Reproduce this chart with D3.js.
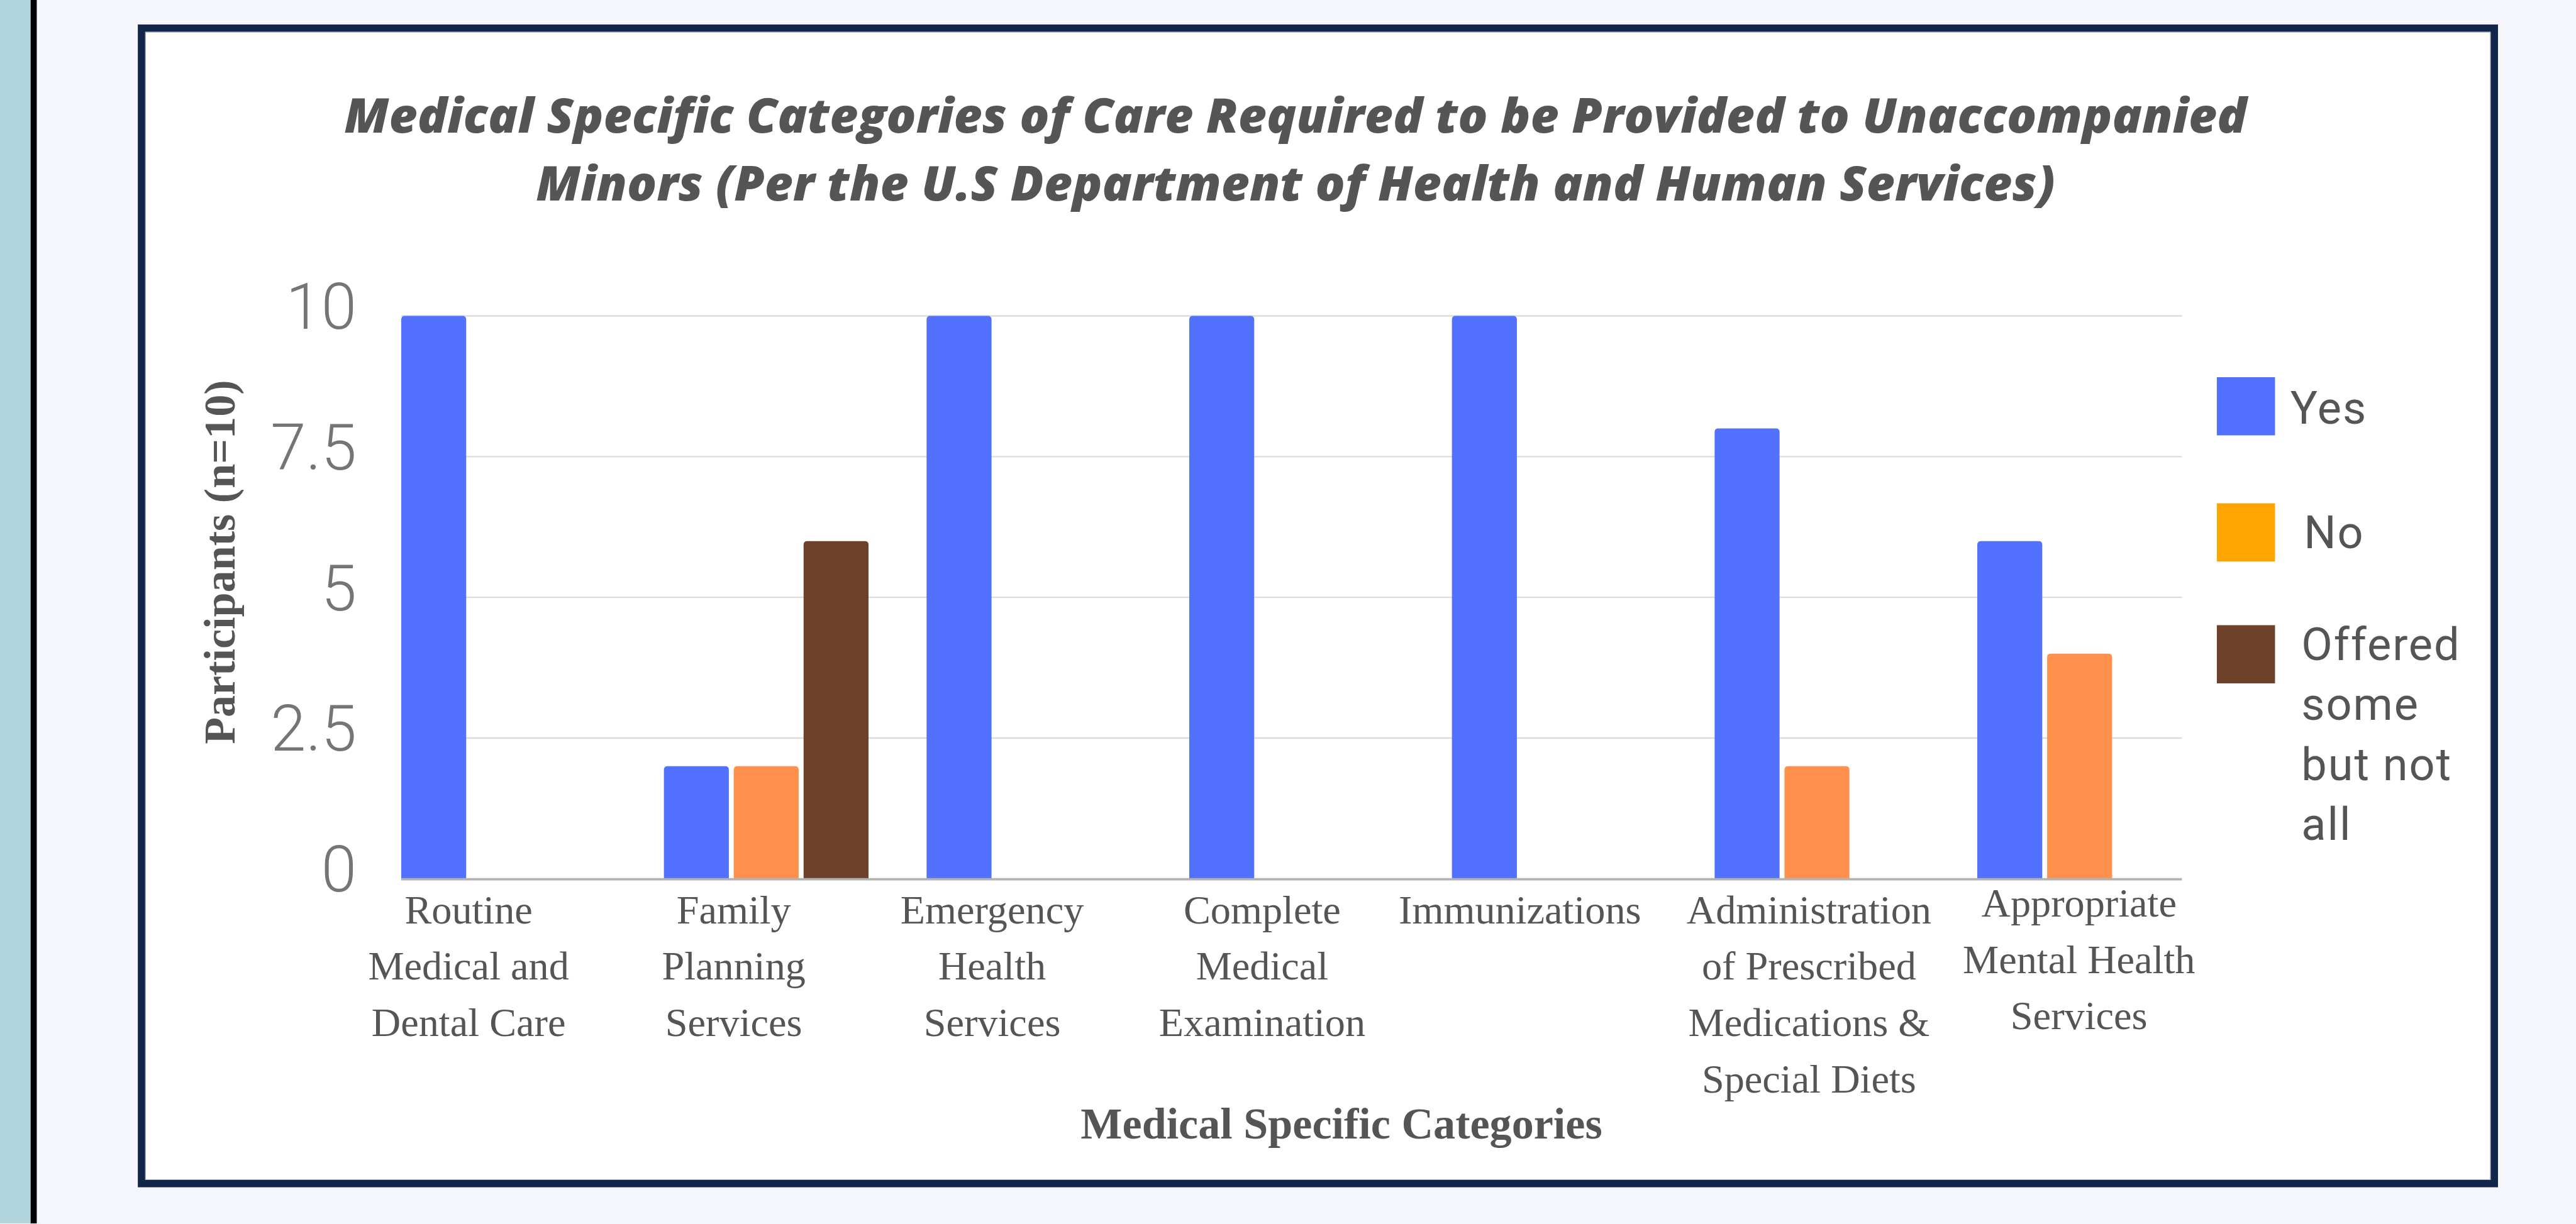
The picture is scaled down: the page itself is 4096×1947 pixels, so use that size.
<!DOCTYPE html>
<html>
<head>
<meta charset="utf-8">
<script src="https://cdn.jsdelivr.net/npm/d3@7"></script>
<style>
  body { margin: 0; background: #f4f6fb; overflow: hidden; }
</style>
</head>
<body>
<script>
// data
const categories = [
  "Routine Medical and Dental Care",
  "Family Planning Services",
  "Emergency Health Services",
  "Complete Medical Examination",
  "Immunizations",
  "Administration of Prescribed Medications & Special Diets",
  "Appropriate Mental Health Services"
];
const categoryLines = [
  ["Routine", "Medical and", "Dental Care"],
  ["Family", "Planning", "Services"],
  ["Emergency", "Health", "Services"],
  ["Complete", "Medical", "Examination"],
  ["Immunizations"],
  ["Administration", "of Prescribed", "Medications &", "Special Diets"],
  ["Appropriate", "Mental Health", "Services"]
];
const seriesNames = ["Yes", "No", "Offered some but not all"];
const yesValues = [10, 2, 10, 10, 10, 8, 6];
const noValues = [0, 2, 0, 0, 0, 2, 4];
const offeredValues = [0, 6, 0, 0, 0, 0, 0];
const yTicks = [0, 2.5, 5, 7.5, 10];

// colours
const barColors = ["#5271ff", "#ff914d", "#6d412a"];
const legendColors = ["#5271ff", "#ffa500", "#6d412a"];
const legendLines = [["Yes"], ["No"], ["Offered", "some", "but not", "all"]];

// the labels under the axis are not centred on their groups in the original
const labelShift = [-57, -53, -60, -48, -56, -13, -1];

const k = 0.974;  // reference -> window
const width = 4096, height = 1947;

const svg = d3.select("body").append("svg")
  .attr("width", width)
  .attr("height", height);

const root = svg.append("g").attr("transform", `scale(${k})`);

// page background, side band
root.append("rect").attr("width", 4203).attr("height", 1998).attr("fill", "#f4f6fb");
root.append("rect").attr("width", 50).attr("height", 1998).attr("fill", "#b3d5e0");
root.append("rect").attr("x", 50).attr("width", 10).attr("height", 1998).attr("fill", "#000");

// framed card
root.append("rect")
  .attr("x", 231).attr("y", 46)
  .attr("width", 3841).attr("height", 1887)
  .attr("fill", "#fff")
  .attr("stroke", "#12264a")
  .attr("stroke-width", 12);
root.append("rect")
  .attr("x", 237.5).attr("y", 52.5)
  .attr("width", 3828).attr("height", 1874)
  .attr("fill", "none")
  .attr("stroke", "#9aa3b5")
  .attr("stroke-width", 1);

// title
const titleLines = [
  { text: "Medical Specific Categories of Care Required to be Provided to Unaccompanied", y: 217, w: 3106 },
  { text: "Minors (Per the U.S Department of Health and Human Services)", y: 328, w: 2480 }
];
root.append("g").selectAll("text")
  .data(titleLines)
  .join("text")
  .attr("x", 2115)
  .attr("y", d => d.y)
  .attr("text-anchor", "middle")
  .attr("font-family", "'Open Sans', sans-serif")
  .attr("font-weight", 800)
  .attr("font-style", "italic")
  .attr("font-size", 78)
  .attr("fill", "#555")
  .attr("textLength", d => d.w)
  .attr("lengthAdjust", "spacingAndGlyphs")
  .text(d => d.text);

// scales
const plot = { left: 655, right: 3562, top: 516, bottom: 1435 };

const x0 = d3.scaleBand()
  .domain(categories)
  .range([plot.left, plot.right])
  .paddingInner(0.221)
  .paddingOuter(0);

const x1 = d3.scaleBand()
  .domain(seriesNames)
  .range([0, x0.bandwidth()])
  .paddingInner(0.07)
  .paddingOuter(0);

const y = d3.scaleLinear()
  .domain([0, 10])
  .range([plot.bottom, plot.top]);

// gridlines
root.append("g").selectAll("line")
  .data(yTicks.filter(t => t > 0))
  .join("line")
  .attr("x1", plot.left).attr("x2", plot.right)
  .attr("y1", d => y(d)).attr("y2", d => y(d))
  .attr("stroke", "#dcdcdc")
  .attr("stroke-width", 2.5);

// y tick labels
root.append("g").selectAll("text")
  .data(yTicks)
  .join("text")
  .attr("x", 582)
  .attr("y", d => y(d) + 21)
  .attr("text-anchor", "end")
  .attr("font-family", "Roboto, sans-serif")
  .attr("font-weight", 300)
  .attr("font-size", 104)
  .attr("fill", "#757575")
  .text(d => d);

// bars
const rows = categories.map((c, i) => ({
  cat: c,
  vals: [yesValues[i], noValues[i], offeredValues[i]]
}));

function topRounded(x, yTop, w, h, r) {
  r = Math.min(r, h, w / 2);
  return `M${x},${yTop + h}V${yTop + r}Q${x},${yTop} ${x + r},${yTop}` +
    `H${x + w - r}Q${x + w},${yTop} ${x + w},${yTop + r}V${yTop + h}Z`;
}

root.append("g").selectAll("g")
  .data(rows)
  .join("g")
  .attr("transform", d => `translate(${x0(d.cat)},0)`)
  .selectAll("path")
  .data(d => d.vals.map((v, j) => ({ key: seriesNames[j], v, j })).filter(d => d.v > 0))
  .join("path")
  .attr("d", d => topRounded(x1(d.key), y(d.v), x1.bandwidth(), y(0) - y(d.v), 6))
  .attr("fill", d => barColors[d.j]);

// baseline
root.append("line")
  .attr("x1", plot.left).attr("x2", plot.right)
  .attr("y1", plot.bottom + 1).attr("y2", plot.bottom + 1)
  .attr("stroke", "#b3b3b3")
  .attr("stroke-width", 4);

// x category labels
const labelG = root.append("g").selectAll("text")
  .data(categories)
  .join("text")
  .attr("text-anchor", "middle")
  .attr("font-family", "'Liberation Serif', 'Times New Roman', serif")
  .attr("font-size", 66)
  .attr("fill", "#555")
  .attr("transform", (d, i) => `translate(${x0(d) + x0.bandwidth() / 2 + labelShift[i]},${i === 6 ? 1497 : 1508})`);

labelG.selectAll("tspan")
  .data((d, i) => categoryLines[i])
  .join("tspan")
  .attr("x", 0)
  .attr("y", (d, i) => i * 92)
  .text(d => d);

// axis titles
root.append("text")
  .attr("x", 2190).attr("y", 1859)
  .attr("text-anchor", "middle")
  .attr("font-family", "'Liberation Serif', 'Times New Roman', serif")
  .attr("font-weight", 700)
  .attr("font-size", 72)
  .attr("fill", "#555")
  .text("Medical Specific Categories");

root.append("text")
  .attr("transform", "translate(383,918) rotate(-90)")
  .attr("text-anchor", "middle")
  .attr("font-family", "'Liberation Serif', 'Times New Roman', serif")
  .attr("font-weight", 700)
  .attr("font-size", 72)
  .attr("fill", "#555")
  .text("Participants (n=10)");

// legend
const legendTop = [616, 822, 1021];
const legendTextX = [3739, 3761, 3757];
const legendBase = [76, 73, 57];
const legend = root.append("g").selectAll("g")
  .data(seriesNames)
  .join("g");

legend.append("rect")
  .attr("x", 3619)
  .attr("y", (d, i) => legendTop[i])
  .attr("width", 95).attr("height", 95)
  .attr("fill", (d, i) => legendColors[i]);

legend.append("text")
  .attr("font-family", "Roboto, sans-serif")
  .attr("font-size", 74)
  .attr("fill", "#555")
  .attr("letter-spacing", 2)
  .selectAll("tspan")
  .data((d, i) => legendLines[i].map(t => ({ t, i })))
  .join("tspan")
  .attr("x", d => legendTextX[d.i])
  .attr("y", (d, j) => legendTop[d.i] + legendBase[d.i] + j * 98)
  .text(d => d.t);
</script>
</body>
</html>
